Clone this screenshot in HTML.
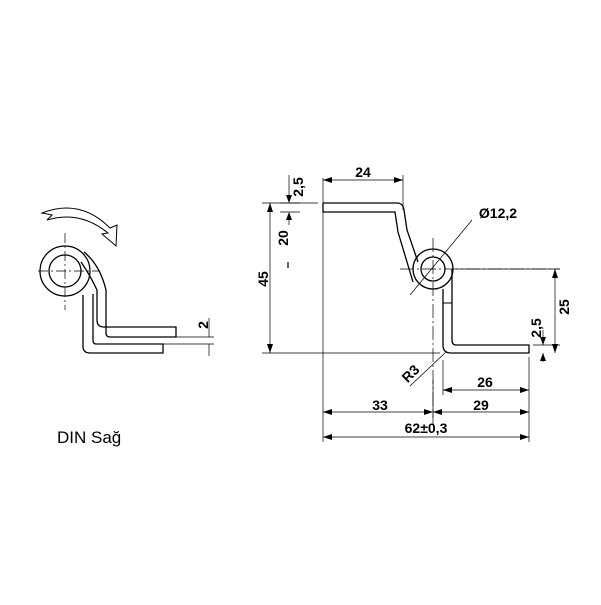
<!DOCTYPE html>
<html><head><style>body{margin:0;background:#fff}</style></head><body>
<svg width="601" height="600" xmlns="http://www.w3.org/2000/svg" font-family="Liberation Sans, sans-serif">
<rect width="601" height="600" fill="#fff"/>
<g fill="none" stroke="#000" stroke-width="1.3">
<!-- left figure -->
<circle cx="65" cy="271" r="25"/>
<circle cx="65" cy="271" r="16"/>
<path d="M81,262 Q90,275 97,290 L97,320 Q97,327 104,327 L176,327 L176,337 L110,337 Q106,337 106,333 L106,290 Q100,265 84,252"/>
<path d="M83,295 L83,346 Q83,353 90,353 L163,353 L163,344 L96,344 Q93,344 93,340 L93,294"/>
<path d="M42,213 Q80,198 110,228 L117,225 L116,246 L102,234 L108,233 Q80,210 47,220 L52,215 Z" stroke-width="1"/>
</g>
<g stroke="#000" stroke-width="0.7" fill="none">
<path d="M65,233 V310 M38,271 H100" stroke-dasharray="10,3,2,3"/>
<path d="M176,337 H214 M163,344 H214 M209,318 V337 M209,344 V356"/>
</g>
<text transform="translate(208,325) rotate(-90)" font-size="14" font-weight="bold" text-anchor="middle">2</text>
<text x="57" y="443" font-size="17">DIN Sağ</text>
<!-- right figure -->
<g fill="none" stroke="#000" stroke-width="1.3">
<path d="M323,203 L397,203 Q403,203 404,210 L407,230 L418,262"/>
<path d="M323,203 V212 L395,212 L398,232 L413,282"/>
<circle cx="433" cy="269" r="20"/>
<circle cx="433" cy="269" r="12"/>
<path d="M443,289 V345 Q443,353 451,353 L529,353 L529,345 L456,345 Q452,345 452,340 V269"/>
<path d="M443,303 H452" stroke-width="1"/>
</g>
<g stroke="#000" stroke-width="0.7" fill="none">
<path d="M400,269 H560 M433,238 V425" stroke-dasharray="14,3,2,3"/>
<path d="M262,203 H318 M262,353 H440 M323,178 V442 M403,175 V210 M529,357 V442 M433,380 V418 M443,360 V395"/>
<path d="M270,203 V353 M323,180 H403 M289,175 V198 M289,215 V225 M280,203 H300 M280,212 H300"/>
<path d="M555,269 V353 M543,330 V345 M543,353 V362 M533,345 H560 M456,269 H560"/>
<path d="M443,390 H529 M323,412 H529 M323,437 H529"/>
<path d="M410,295 L472,220 M410,386 L446,352"/>
<path d="M288,262 V268" stroke-width="1.2"/>
</g>
<g fill="#000">
<path d="M270,203 l-3,9 h6z M270,353 l-3,-9 h6z M323,180 l9,-3 v6z M403,180 l-9,-3 v6z"/>
<path d="M443,390 l9,-3 v6z M529,390 l-9,-3 v6z M323,412 l9,-3 v6z M433,412 l-9,-3 v6z M433,412 l9,-3 v6z M529,412 l-9,-3 v6z M323,437 l9,-3 v6z M529,437 l-9,-3 v6z"/>
<path d="M555,269 l-3,9 h6z M555,353 l-3,-9 h6z M289,203 l-3,-8 h6z M289,212 l-3,8 h6z M543,345 l-3,-8 h6z M543,353 l-3,8 h6z"/>
</g>
<g font-size="14" font-weight="bold" text-anchor="middle">
<text x="363" y="177">24</text>
<text x="498" y="218">Ø12,2</text>
<text x="485" y="387">26</text>
<text x="380" y="410">33</text>
<text x="481" y="410">29</text>
<text x="426" y="433">62±0,3</text>
<text transform="translate(303,187) rotate(-90)">2,5</text>
<text transform="translate(288,238) rotate(-90)">20</text>
<text transform="translate(268,279) rotate(-90)">45</text>
<text transform="translate(569,307) rotate(-90)">25</text>
<text transform="translate(541,328) rotate(-90)">2,5</text>
<text transform="translate(414,377) rotate(-45)">R3</text>
</g>
</svg>
</body></html>
